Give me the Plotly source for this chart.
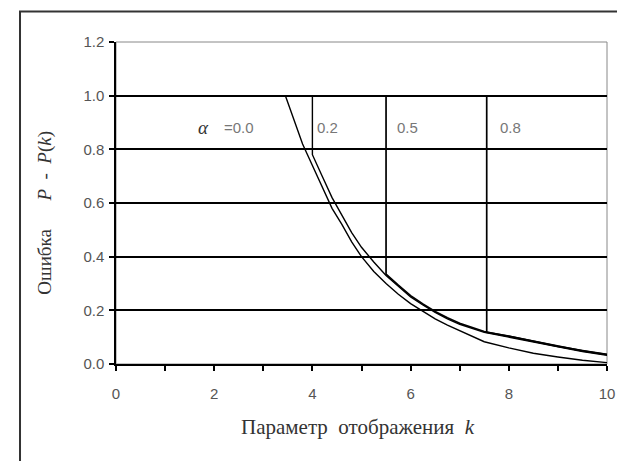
import plotly.graph_objects as go

# ---- data ----
k_a0 = [3.45, 3.6, 3.8, 4.0, 4.2, 4.4, 4.6, 4.8, 5.0, 5.25, 5.5, 5.75, 6.0, 6.25, 6.5, 6.75, 7.0, 7.5, 8.0, 8.5, 9.0, 9.5, 10.0]
p_a0 = [1.0, 0.92, 0.82, 0.74, 0.66, 0.58, 0.52, 0.455, 0.40, 0.345, 0.30, 0.26, 0.225, 0.195, 0.168, 0.145, 0.125, 0.083, 0.06, 0.04, 0.026, 0.014, 0.005]

k_a2 = [4.0, 4.0, 4.2, 4.4, 4.6, 4.8, 5.0, 5.25, 5.5, 5.75, 6.0, 6.25, 6.5, 6.75, 7.0, 7.5, 8.0, 8.5, 9.0, 9.5, 10.0]
p_a2 = [1.0, 0.78, 0.70, 0.62, 0.555, 0.49, 0.435, 0.38, 0.33, 0.29, 0.25, 0.22, 0.192, 0.168, 0.148, 0.118, 0.10, 0.08, 0.062, 0.046, 0.032]

k_a5 = [5.5, 5.5, 5.75, 6.0, 6.25, 6.5, 6.75, 7.0, 7.5, 8.0, 8.5, 9.0, 9.5, 10.0]
p_a5 = [1.0, 0.335, 0.294, 0.255, 0.224, 0.196, 0.172, 0.152, 0.121, 0.103, 0.083, 0.065, 0.049, 0.035]

k_a8 = [7.55, 7.55, 8.0, 8.5, 9.0, 9.5, 10.0]
p_a8 = [1.0, 0.118, 0.104, 0.084, 0.066, 0.05, 0.036]

alpha_labels = ["=0.0", "0.2", "0.5", "0.8"]
alpha_label_k = [2.15, 4.05, 5.68, 7.78]
label_p = 0.88

x_ticks = [0, 2, 4, 6, 8, 10]
y_ticks = [0.0, 0.2, 0.4, 0.6, 0.8, 1.0, 1.2]

fig = go.Figure()
for kx, py, w in [(k_a0, p_a0, 1.4), (k_a2, p_a2, 1.4), (k_a5, p_a5, 1.7), (k_a8, p_a8, 1.7)]:
    fig.add_trace(go.Scatter(x=kx, y=py, mode="lines",
                             line=dict(color="black", width=w),
                             showlegend=False, hoverinfo="skip"))

tickfont = dict(family="Liberation Sans, Arial, sans-serif", size=15, color="#555")

fig.update_layout(
    width=617, height=461, autosize=False,
    margin=dict(l=116, r=10, t=41.5, b=97, autoexpand=False),
    paper_bgcolor="white", plot_bgcolor="white",
    showlegend=False,
    xaxis=dict(range=[0, 10], tickvals=x_ticks, ticks="outside", ticklen=5,
               tickcolor="black", tickwidth=1.5, showgrid=False, zeroline=False,
               showline=True, linecolor="black", linewidth=1.5, automargin=False,
               ticklabeloverflow="allow",
               tickfont=tickfont, ticklabelstandoff=10,
               minor=dict(dtick=1, ticks="outside", ticklen=5, tickcolor="black",
                          tickwidth=1.5, showgrid=False)),
    yaxis=dict(range=[0, 1.2], tickvals=y_ticks, tickformat=".1f",
               ticks="outside", ticklen=5, tickcolor="black", tickwidth=1.5,
               showgrid=True, gridcolor="black", gridwidth=1.8, zeroline=False,
               showline=True, linecolor="black", linewidth=1.5, automargin=False,
               tickfont=tickfont, ticklabelstandoff=2),
)

# plot-area border (gray top/right)
fig.add_shape(type="rect", xref="paper", yref="paper", x0=0, y0=0, x1=1, y1=1,
              line=dict(color="#888", width=1), layer="below")
# outer chart frame
fig.add_shape(type="rect", xref="paper", yref="paper", x0=-0.1955, y0=-0.40, x1=1.1, y1=1.0946,
              line=dict(color="#333", width=2))

labfont = dict(family="Liberation Sans, Arial, sans-serif", size=15, color="#777")
for txt, kx in zip(alpha_labels, alpha_label_k):
    fig.add_annotation(x=kx, y=label_p, xref="x", yref="y", text=txt, showarrow=False,
                       xanchor="left", yanchor="middle", font=labfont)
fig.add_annotation(x=1.62, y=label_p, xref="x", yref="y", text="<i>α</i>", showarrow=False,
                   xanchor="left", yanchor="middle",
                   font=dict(family="Liberation Serif, Times New Roman, serif", size=19, color="#333"))

titlefont = dict(family="Liberation Serif, Times New Roman, serif", size=19, color="#333")
fig.add_annotation(x=-0.1446, y=0.47, xref="paper", yref="paper",
                   text="Ошибка&nbsp;&nbsp;&nbsp;&nbsp;&nbsp;&nbsp;<i>P</i>&nbsp;&nbsp;-&nbsp;&nbsp;<i>P</i>(<i>k</i>)",
                   textangle=-90,
                   showarrow=False, xanchor="center", yanchor="middle", font=titlefont)
fig.add_annotation(x=0.493, y=-0.195, xref="paper", yref="paper",
                   text="Параметр&nbsp;&nbsp;отображения&nbsp;&nbsp;<i>k</i>",
                   showarrow=False, xanchor="center", yanchor="middle",
                   font=dict(family="Liberation Serif, Times New Roman, serif", size=21, color="#333"))

fig.write_html("out.html", config={"displayModeBar": False, "responsive": False},
               post_script="document.body.style.margin='0';document.body.style.overflow='hidden';")
